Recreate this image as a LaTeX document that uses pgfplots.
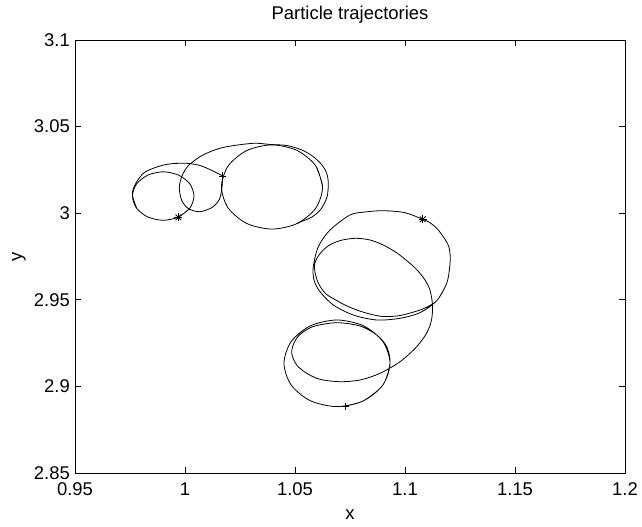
\documentclass[border=0pt]{standalone}
\usepackage{fontspec}
\setmainfont{Liberation Sans}
\usepackage{pgfplots}
\pgfplotsset{compat=1.18}

\newcommand\figfont{\fontsize{18.5}{22}\selectfont}

\begin{document}
\begin{tikzpicture}
\useasboundingbox (-75bp,-54bp) rectangle (567bp,473bp);
\begin{axis}[
  scale only axis,
  width=550bp, height=433bp,
  xmin=0.95, xmax=1.2, ymin=2.85, ymax=3.1,
  xtick={0.95,1,1.05,1.1,1.15,1.2},
  ytick={2.85,2.9,2.95,3,3.05,3.1},
  tick align=inside,
  major tick length=6bp,
  axis line style={line width=0.8bp},
  every tick/.style={black, line width=0.8bp},
  /pgf/number format/assume math mode=true,
  tick label style={font=\figfont},
  xticklabel style={anchor=center, inner sep=0pt, yshift=-16bp},
  yticklabel style={anchor=east, inner sep=0pt, xshift=-5bp},
  title={Particle trajectories},
  title style={font=\figfont, at={(axis description cs:0.5,1.0346)}, anchor=base, inner sep=0pt},
  xlabel={x},
  xlabel style={font=\figfont, at={(axis description cs:0.5,-0.1085)}, anchor=base, inner sep=0pt},
  ylabel={y},
  ylabel style={font=\figfont, at={(axis description cs:-0.1018,0.5)}, anchor=center, inner sep=0pt},
  every axis plot/.append style={black, line width=0.8bp},
]

% particle 1: small loop
\addplot[smooth] coordinates {
  (0.9971,2.9978) (1.0022,3.0029) (1.0041,3.0099) (1.0022,3.0169) (0.9971,3.0220)
  (0.9901,3.0239) (0.9831,3.0220) (0.9780,3.0169) (0.9761,3.0099) (0.9780,3.0029)
  (0.9831,2.9978) (0.9901,2.9959) (0.9971,2.9978) (1.0022,3.0029)
};
% particle 1: outer arc to end point
\addplot[smooth] coordinates {
  (0.9780,3.0029) (0.97615,3.0099) (0.97636,3.01339) (0.97805,3.01819) (0.98182,3.02379)
  (0.98864,3.02725) (0.99409,3.02858) (1.00077,3.02881) (1.00682,3.02754) (1.01227,3.02465)
  (1.01714,3.02148)
};
% particle 1: middle loop and wide arc
\addplot[smooth] coordinates {
  (1.01714,3.02148) (1.01668,3.01339) (1.01545,3.00762) (1.01227,3.00329) (1.00682,3.00086)
  (1.00182,3.00242) (0.99864,3.00704) (0.99741,3.01438) (0.99850,3.02107) (1.00136,3.02725)
  (1.00682,3.03262) (1.01227,3.03591) (1.01895,3.03840) (1.03105,3.04036) (1.03864,3.03967)
  (1.04623,3.03909) (1.05318,3.03649) (1.05832,3.03262) (1.06227,3.02783) (1.06441,3.02304)
  (1.06514,3.01726) (1.06455,3.00935) (1.06182,3.00242) (1.05773,2.99781) (1.05227,2.99486)
  (1.05105,2.99409)
};
% particle 1: big loop
\addplot[smooth] coordinates {
  (1.06255,3.01513) (1.05947,3.02728) (1.05105,3.03617) (1.03955,3.03943) (1.02805,3.03617)
  (1.01963,3.02728) (1.01655,3.01513) (1.01963,3.00298) (1.02805,2.99409) (1.03955,2.99083)
  (1.05105,2.99409) (1.05947,3.00298) (1.06255,3.01513) (1.05947,3.02728)
};

% particle 2
\addplot[smooth] coordinates {
  (1.07286,2.88864) (1.08114,2.89169) (1.08996,2.90084) (1.09319,2.91334) (1.08996,2.92584)
  (1.08114,2.93499) (1.06909,2.93834) (1.05704,2.93499) (1.04822,2.92584) (1.04499,2.91334)
  (1.04822,2.90084) (1.05704,2.89169) (1.06909,2.88834) (1.08114,2.89169) (1.08996,2.90084)
  (1.09319,2.91334) (1.09168,2.92292) (1.08714,2.92968) (1.07955,2.93487) (1.06895,2.93678)
  (1.05832,2.93458) (1.05227,2.92997) (1.04955,2.92506) (1.04850,2.91911) (1.05077,2.91236)
  (1.05532,2.90756) (1.06136,2.90410) (1.07045,2.90271) (1.07955,2.90370) (1.08864,2.90756)
  (1.09773,2.91426) (1.10532,2.92292) (1.10986,2.93083) (1.11205,2.93834) (1.11250,2.94700)
  (1.11136,2.95566) (1.10909,2.96143) (1.10591,2.96663) (1.10227,2.97107) (1.09636,2.97702)
  (1.09014,2.98164) (1.08409,2.98453) (1.07805,2.98551) (1.07273,2.98482) (1.06895,2.98355)
  (1.06500,2.98106) (1.06214,2.97777) (1.06000,2.97413) (1.05886,2.97009) (1.05909,2.96605)
  (1.06000,2.96143) (1.06159,2.95739) (1.06409,2.95335) (1.06895,2.94960) (1.07318,2.94671)
  (1.07805,2.94411) (1.08318,2.94209) (1.08864,2.94053) (1.09318,2.94036) (1.09773,2.94093)
  (1.10318,2.94267) (1.10864,2.94498) (1.11441,2.94948) (1.11895,2.95953) (1.12025,2.96830)
  (1.12055,2.97540) (1.11950,2.98200) (1.11514,2.99030) (1.11136,2.99452) (1.10805,2.99648)
  (1.10000,3.00029) (1.09014,3.00144) (1.08182,3.00069) (1.07500,2.99896) (1.06591,2.99030)
  (1.06059,2.98066) (1.05832,2.96911) (1.05864,2.96143) (1.06136,2.95468) (1.06741,2.94700)
  (1.07650,2.94122) (1.08714,2.93834) (1.09773,2.93932) (1.10682,2.94255) (1.11441,2.94948)
  (1.11895,2.95953) (1.12025,2.96830) (1.12055,2.97540) (1.11950,2.98200) (1.11514,2.99030)
  (1.11136,2.99452) (1.10805,2.99648)
};

% start points (*)
\addplot[only marks, mark=+, mark size=4bp] coordinates {(0.9970,2.9976) (1.10805,2.99648)};
\addplot[only marks, mark=x, mark size=4bp] coordinates {(0.9970,2.9976) (1.10805,2.99648)};
% end points (+)
\addplot[only marks, mark=+, mark size=3.5bp] coordinates {(1.01714,3.02148) (1.07273,2.88868)};
\end{axis}
\end{tikzpicture}
\end{document}
